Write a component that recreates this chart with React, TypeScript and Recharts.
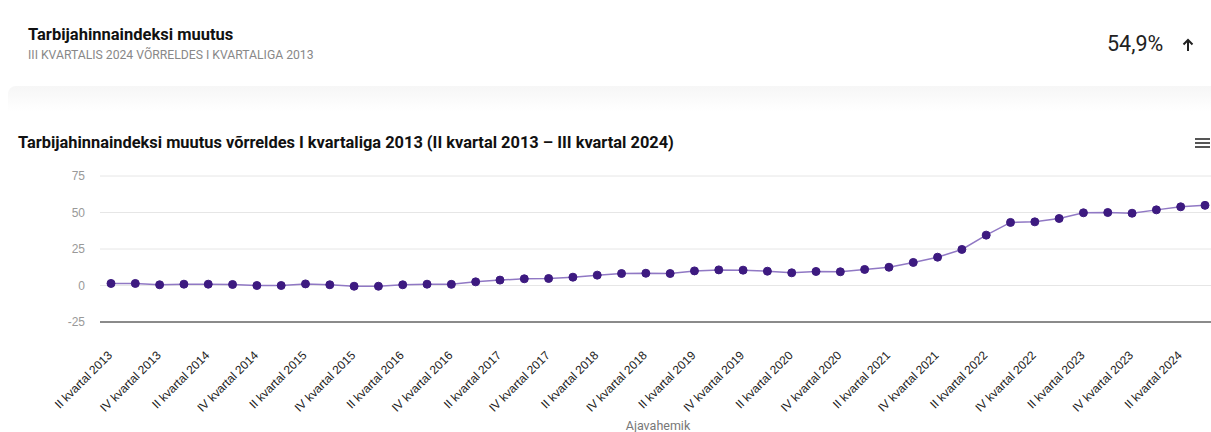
import React from "react";
import { LineChart, Line, XAxis, YAxis, CartesianGrid } from "recharts";

const quarters: string[] = [
  "II kvartal 2013", "III kvartal 2013", "IV kvartal 2013",
  "I kvartal 2014", "II kvartal 2014", "III kvartal 2014", "IV kvartal 2014",
  "I kvartal 2015", "II kvartal 2015", "III kvartal 2015", "IV kvartal 2015",
  "I kvartal 2016", "II kvartal 2016", "III kvartal 2016", "IV kvartal 2016",
  "I kvartal 2017", "II kvartal 2017", "III kvartal 2017", "IV kvartal 2017",
  "I kvartal 2018", "II kvartal 2018", "III kvartal 2018", "IV kvartal 2018",
  "I kvartal 2019", "II kvartal 2019", "III kvartal 2019", "IV kvartal 2019",
  "I kvartal 2020", "II kvartal 2020", "III kvartal 2020", "IV kvartal 2020",
  "I kvartal 2021", "II kvartal 2021", "III kvartal 2021", "IV kvartal 2021",
  "I kvartal 2022", "II kvartal 2022", "III kvartal 2022", "IV kvartal 2022",
  "I kvartal 2023", "II kvartal 2023", "III kvartal 2023", "IV kvartal 2023",
  "I kvartal 2024", "II kvartal 2024", "III kvartal 2024",
];

const changePct: number[] = [
  1.4, 1.4, 0.5, 0.9, 0.9, 0.7, 0, 0, 1.1, 0.5, -0.5, -0.5, 0.5, 0.9, 0.8,
  2.5, 3.7, 4.6, 4.8, 5.7, 7.1, 8.2, 8.4, 8.2, 10.0, 10.7, 10.5, 9.8, 8.7, 9.6, 9.4,
  11.0, 12.5, 15.8, 19.4, 24.7, 34.5, 43.2, 43.6, 45.9, 49.8, 50.0, 49.5, 51.8, 53.9, 54.9,
];

const yTicks: number[] = [-25, 0, 25, 50, 75];

const data = quarters.map((q, i) => ({ q, v: changePct[i] }));

const FONT = "Roboto, 'Noto Sans', sans-serif";
const AXIS_FONT = "'Liberation Sans', Arial, sans-serif";

const XTick = (props: any) => {
  const { x, y, payload } = props;
  return (
    <text
      transform={`translate(${x + 2},${y}) rotate(-45)`}
      textAnchor="end"
      fontSize={12}
      fontFamily={AXIS_FONT}
      fill="#222"
    >
      {payload.value}
    </text>
  );
};

const YTick = (props: any) => {
  const { y, payload } = props;
  return (
    <text x={85} y={y + 4} textAnchor="end" fontSize={12} fontFamily={AXIS_FONT} fill="#999">
      {payload.value}
    </text>
  );
};

export default function App() {
  return (
    <div
      style={{
        position: "absolute",
        left: 0,
        top: 0,
        width: 1211,
        height: 432,
        overflow: "hidden",
        background: "#fff",
        fontFamily: FONT,
      }}
    >
      <div style={{ position: "absolute", left: 28, top: 25, fontSize: 16.5, fontWeight: 700, color: "#111" }}>
        Tarbijahinnaindeksi muutus
      </div>
      <div style={{ position: "absolute", left: 28, top: 48, fontSize: 12.2, color: "#888" }}>
        III KVARTALIS 2024 VÕRRELDES I KVARTALIGA 2013
      </div>
      <div style={{ position: "absolute", left: 1107, top: 31, fontSize: 21.5, color: "#222" }}>54,9%</div>
      <svg style={{ position: "absolute", left: 1181, top: 37 }} width={14} height={16}>
        <path d="M7 14 V3 M2.5 7.5 L7 3 L11.5 7.5" stroke="#222" strokeWidth={2} fill="none" />
      </svg>
      <div
        style={{
          position: "absolute",
          left: 8,
          top: 86,
          width: 1203,
          height: 26,
          background: "linear-gradient(to bottom, #f6f6f6, #ffffff)",
          borderTopLeftRadius: 8,
        }}
      />
      <div style={{ position: "absolute", left: 18, top: 133, fontSize: 16.4, fontWeight: 700, color: "#111" }}>
        Tarbijahinnaindeksi muutus võrreldes I kvartaliga 2013 (II kvartal 2013 – III kvartal 2024)
      </div>
      <div style={{ position: "absolute", left: 1195, top: 138, width: 15 }}>
        <div style={{ height: 2, background: "#555", marginBottom: 2 }} />
        <div style={{ height: 2, background: "#555", marginBottom: 2 }} />
        <div style={{ height: 2, background: "#555" }} />
      </div>
      <div style={{ position: "absolute", left: 0, top: 0 }}>
        <LineChart width={1216} height={432} data={data} margin={{ top: 176, right: 0, bottom: 80, left: 0 }}>
          <CartesianGrid vertical={false} stroke="#e6e6e6" />
          <XAxis
            dataKey="q"
            interval={1}
            tickLine={false}
            axisLine={{ stroke: "#222" }}
            padding={{ left: 11, right: 11 }}
            tick={<XTick />}
            tickSize={0}
            tickMargin={34}
          />
          <YAxis
            domain={[-25, 75]}
            ticks={yTicks}
            width={100}
            axisLine={false}
            tickLine={false}
            tick={<YTick />}
            allowDataOverflow
          />
          <Line
            dataKey="v"
            stroke="#9078c4"
            strokeWidth={1.5}
            isAnimationActive={false}
            dot={{ r: 4, fill: "#3d1a80", stroke: "#3d1a80", strokeWidth: 1 }}
          />
        </LineChart>
      </div>
      <div
        style={{
          position: "absolute",
          left: 0,
          width: 1316,
          top: 419,
          textAlign: "center",
          fontSize: 12.5,
          lineHeight: "13px",
          color: "#777",
        }}
      >
        Ajavahemik
      </div>
    </div>
  );
}
